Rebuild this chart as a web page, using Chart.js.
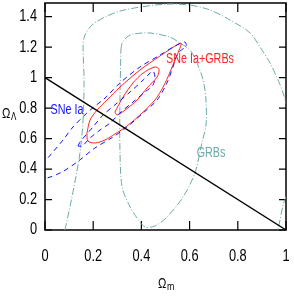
<!DOCTYPE html>
<html>
<head>
<meta charset="utf-8">
<script src="https://cdn.jsdelivr.net/npm/chart.js@4.4.0/dist/chart.umd.min.js"></script>
<style>
    html, body { margin: 0; padding: 0; background: #fff; }
</style>
</head>
<body>
<canvas id="chart" width="294" height="300"></canvas>
<script>
// Tick values
const xTicks = [0, 0.2, 0.4, 0.6, 0.8, 1];
const yTicks = [0, 0.2, 0.4, 0.6, 0.8, 1, 1.2, 1.4];

// Flat universe line (Om + OL = 1)
const flatM = [0, 1];
const flatL = [1, 0];

// GRBs outer contour (runs off the right edge and back)
const grbOuterM = [0.083, 0.112, 0.145, 0.158, 0.162, 0.158, 0.166, 0.195, 0.249, 0.311, 0.394, 0.506, 0.602, 0.685, 0.768, 0.851, 0.892, 0.934, 0.967, 0.988, 1.017, 1.025, 1.008, 0.988, 0.971, 0.963];
const grbOuterL = [0, 0.217, 0.505, 0.722, 0.984, 1.214, 1.28, 1.345, 1.398, 1.437, 1.463, 1.483, 1.476, 1.444, 1.378, 1.293, 1.201, 1.096, 0.984, 0.899, 0.722, 0.459, 0.262, 0.164, 0.033, -0.033];

// GRBs inner contour
const grbInnerM = [0.315, 0.320, 0.340, 0.365, 0.436, 0.519, 0.560, 0.602, 0.631, 0.656, 0.668, 0.668, 0.651, 0.622, 0.573, 0.506, 0.456, 0.415, 0.382, 0.353, 0.320, 0.311, 0.311, 0.315];
const grbInnerL = [1.181, 1.227, 1.266, 1.286, 1.293, 1.266, 1.227, 1.181, 1.096, 0.984, 0.853, 0.689, 0.571, 0.374, 0.217, 0.085, 0.026, 0.020, 0.079, 0.151, 0.282, 0.525, 0.853, 1.181];

// SNe Ia outer contour
const snOuterM = [-0.041, 0, 0.033, 0.075, 0.116, 0.187, 0.249, 0.311, 0.394, 0.477, 0.539, 0.581, 0.585, 0.552, 0.531, 0.506, 0.465, 0.407, 0.340, 0.282, 0.207, 0.133, 0.071, 0.008, -0.029, -0.041];
const snOuterL = [0.394, 0.453, 0.512, 0.591, 0.676, 0.787, 0.866, 0.965, 1.070, 1.148, 1.207, 1.234, 1.207, 1.161, 1.070, 0.965, 0.853, 0.768, 0.676, 0.610, 0.538, 0.446, 0.381, 0.341, 0.341, 0.394];

// SNe Ia inner contour
const snInnerM = [0.137, 0.145, 0.199, 0.241, 0.299, 0.353, 0.407, 0.436, 0.448, 0.456, 0.448, 0.415, 0.365, 0.311, 0.270, 0.228, 0.187, 0.154, 0.137];
const snInnerL = [0.551, 0.577, 0.676, 0.755, 0.833, 0.906, 0.984, 1.030, 1.043, 1.010, 0.951, 0.906, 0.840, 0.768, 0.702, 0.656, 0.604, 0.551, 0.551];

// SNe Ia + GRBs outer contour
const bothOuterM = [0.174, 0.187, 0.216, 0.257, 0.311, 0.394, 0.477, 0.539, 0.564, 0.560, 0.539, 0.519, 0.490, 0.456, 0.407, 0.340, 0.290, 0.249, 0.207, 0.178, 0.174];
const bothOuterL = [0.636, 0.722, 0.787, 0.853, 0.938, 1.050, 1.142, 1.207, 1.227, 1.194, 1.115, 1.037, 0.938, 0.853, 0.774, 0.682, 0.630, 0.591, 0.571, 0.584, 0.636];

// SNe Ia + GRBs inner contour
const bothInnerM = [0.290, 0.324, 0.365, 0.407, 0.456, 0.473, 0.465, 0.423, 0.382, 0.332, 0.299, 0.290];
const bothInnerL = [0.774, 0.873, 0.965, 1.030, 1.070, 1.056, 1.004, 0.932, 0.853, 0.787, 0.755, 0.774];

const pts = (m, l) => m.map((v, i) => ({ x: v, y: l[i] }));

const GRB_COLOR = '#6fa9a9';
const SN_COLOR = '#1414ff';
const BOTH_COLOR = '#ff2424';
const FONT = '"Liberation Sans", Arial, sans-serif';

function contour(data, color, dash, order) {
    return {
        data,
        showLine: true,
        borderColor: color,
        borderWidth: 1,
        borderDash: dash,
        pointRadius: 0,
        tension: 0.3,
        fill: false,
        order,
        clip: 0
    };
}

// condensed text, like the squeezed original figure
function squeezed(ctx, text, px, py, size, sx, align) {
    ctx.save();
    ctx.font = size + 'px ' + FONT;
    ctx.textAlign = align || 'center';
    ctx.textBaseline = 'middle';
    ctx.translate(px, py);
    ctx.scale(sx, 1);
    ctx.fillText(text, 0, 0);
    ctx.restore();
}

// Frame, inside ticks and text labels
const framePlugin = {
    id: 'frame',
    beforeDatasetsDraw(chart) {
        const { ctx, chartArea: a, scales: { x, y } } = chart;
        ctx.save();
        ctx.strokeStyle = '#000';
        ctx.lineWidth = 1.5;
        ctx.strokeRect(a.left, a.top, a.right - a.left, a.bottom - a.top);
        ctx.lineWidth = 1.2;
        ctx.beginPath();
        xTicks.forEach(v => {
            const px = x.getPixelForValue(v);
            ctx.moveTo(px, a.bottom); ctx.lineTo(px, a.bottom - 9);
            ctx.moveTo(px, a.top); ctx.lineTo(px, a.top + 9);
        });
        yTicks.forEach(v => {
            const py = y.getPixelForValue(v);
            ctx.moveTo(a.left, py); ctx.lineTo(a.left + 7, py);
            ctx.moveTo(a.right, py); ctx.lineTo(a.right - 7, py);
        });
        ctx.stroke();

        ctx.fillStyle = '#000';
        xTicks.forEach(v => squeezed(ctx, String(v), x.getPixelForValue(v), a.bottom + 27, 16, 0.8));
        yTicks.forEach(v => squeezed(ctx, String(v), a.left - 8, y.getPixelForValue(v), 16, 0.8, 'right'));
        ctx.restore();
    },
    afterDatasetsDraw(chart) {
        const { ctx, scales: { x, y } } = chart;
        ctx.save();
        ctx.fillStyle = SN_COLOR;
        squeezed(ctx, 'SNe Ia', x.getPixelForValue(0.091), y.getPixelForValue(0.787), 14, 0.77);
        ctx.fillStyle = BOTH_COLOR;
        squeezed(ctx, 'SNe Ia+GRBs', x.getPixelForValue(0.643), y.getPixelForValue(1.122), 14, 0.77);
        ctx.fillStyle = GRB_COLOR;
        squeezed(ctx, 'GRBs', x.getPixelForValue(0.689), y.getPixelForValue(0.505), 14, 0.77);

        // axis titles
        ctx.fillStyle = '#000';
        squeezed(ctx, '\u03A9', 2, 114, 14, 0.8, 'left');
        squeezed(ctx, '\u039B', 11, 117, 10, 0.8, 'left');
        squeezed(ctx, '\u03A9', 158, 284, 14, 0.8, 'left');
        squeezed(ctx, 'm', 167, 287, 11, 0.8, 'left');
        ctx.restore();
    }
};

new Chart(document.getElementById('chart').getContext('2d'), {
    type: 'scatter',
    data: {
        datasets: [
            contour(pts(snOuterM, snOuterL), SN_COLOR, [5, 4], 1),
            contour(pts(snInnerM, snInnerL), SN_COLOR, [5, 4], 1),
            contour(pts(bothOuterM, bothOuterL), BOTH_COLOR, [], 2),
            contour(pts(bothInnerM, bothInnerL), BOTH_COLOR, [], 2),
            contour(pts(grbOuterM, grbOuterL), GRB_COLOR, [7, 2, 1, 2], 3),
            contour(pts(grbInnerM, grbInnerL), GRB_COLOR, [7, 2, 1, 2], 3),
            {
                data: pts(flatM, flatL),
                showLine: true,
                borderColor: '#000',
                borderWidth: 1.3,
                pointRadius: 0,
                order: 0,
                clip: 0
            }
        ]
    },
    options: {
        responsive: false,
        animation: false,
        layout: { autoPadding: false, padding: { left: 0, right: 8, top: 3, bottom: 0 } },
        plugins: {
            legend: { display: false },
            tooltip: { enabled: false }
        },
        scales: {
            x: {
                type: 'linear',
                min: 0,
                max: 1,
                afterBuildTicks: scale => { scale.ticks = xTicks.map(v => ({ value: v })); },
                afterFit: scale => { scale.height = 70; },
                grid: { display: false, drawTicks: false },
                border: { display: false },
                ticks: { display: false }
            },
            y: {
                type: 'linear',
                min: 0,
                max: 1.49,
                afterBuildTicks: scale => { scale.ticks = yTicks.map(v => ({ value: v })); },
                afterFit: scale => { scale.width = 45; },
                grid: { display: false, drawTicks: false },
                border: { display: false },
                ticks: { display: false }
            }
        }
    },
    plugins: [framePlugin]
});
</script>
</body>
</html>
